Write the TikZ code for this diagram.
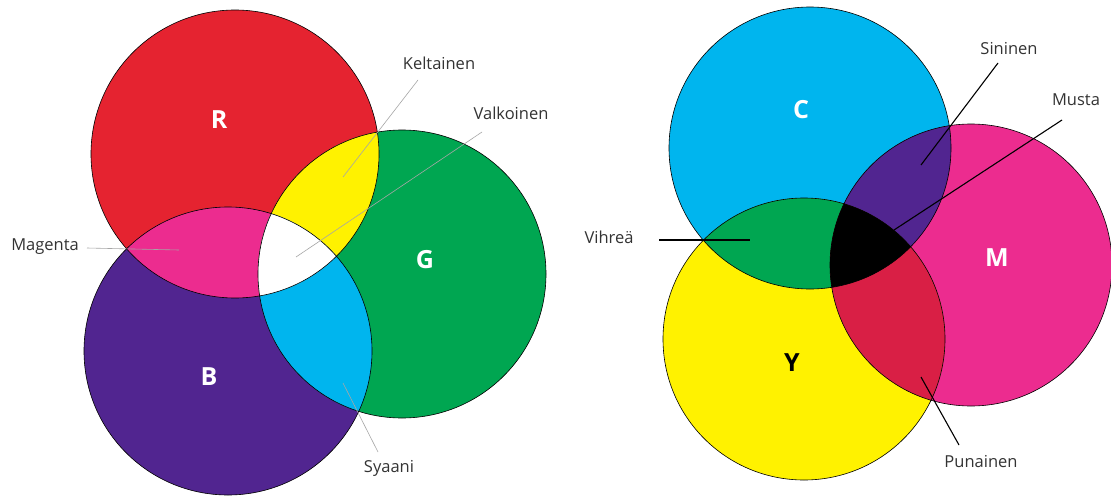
\documentclass[tikz,border=0pt]{standalone}
\usepackage{fontspec}
\setmainfont{Open Sans}
\definecolor{cR}{HTML}{E52330}
\definecolor{cG}{HTML}{00A651}
\definecolor{cB}{HTML}{512590}
\definecolor{cC}{HTML}{00B5EE}
\definecolor{cY}{HTML}{FFF200}
\definecolor{cM}{HTML}{EC2C8F}
\definecolor{cRed}{HTML}{D91F45}
\definecolor{cTxt}{HTML}{333333}
\begin{document}
\begin{tikzpicture}[x=1pt,y=-1pt,
  outline/.style={draw=black,line width=0.6pt},
  lbl/.style={font=\fontsize{16.5}{18}\selectfont,text=cTxt,inner sep=1pt},
  big/.style={font=\fontsize{25}{28}\selectfont\bfseries,inner sep=0pt},
  gline/.style={draw=gray!70,line width=0.6pt},
  kline/.style={draw=black,line width=1.1pt}]
\useasboundingbox (0,0) rectangle (1111,498);
\fill[white] (0,0) rectangle (1111,498);
% ---------- left: additive ----------
\coordinate (R) at (235,154);
\coordinate (B) at (228,351);
\coordinate (G) at (402,274);
\def\rl{144pt}
\fill[cR] (R) circle[radius=\rl];
\fill[cB] (B) circle[radius=\rl];
\fill[cG] (G) circle[radius=\rl];
\begin{scope}\clip (R) circle[radius=\rl]; \fill[cM] (B) circle[radius=\rl]; \fill[cY] (G) circle[radius=\rl];\end{scope}
\begin{scope}\clip (G) circle[radius=\rl]; \fill[cC] (B) circle[radius=\rl];\end{scope}
\begin{scope}\clip (R) circle[radius=\rl]; \clip (G) circle[radius=\rl]; \fill[white] (B) circle[radius=\rl];\end{scope}
\draw[outline] (R) circle[radius=\rl] (B) circle[radius=\rl] (G) circle[radius=\rl];
\node[big,text=white] (lR) at (219,120) {R};
\node[big,text=white] (lB) at (209,377) {B};
\node[big,text=white] (lG) at (425,260) {G};
\node[lbl] (kel) at (439,63) {Keltainen};
\node[lbl] (val) at (511,113) {Valkoinen};
\node[lbl] (mag) at (45,247) {Magenta};
\node[lbl] (sya) at (389,468) {Syaani};
\coordinate (pk) at (343,177);
\coordinate (pv) at (296,257);
\coordinate (pm) at (179,250);
\coordinate (ps) at (343,383);
\draw[gline] (418,80) -- (pk);
\draw[gline] (482,132) -- (pv);
\draw[gline] (87,248) -- (pm);
\draw[gline] (378,452) -- (ps);
% ---------- right: subtractive ----------
\coordinate (C) at (810,148);
\coordinate (M) at (971,265);
\coordinate (Y) at (804,339);
\def\rr{141pt}
\fill[cC] (C) circle[radius=\rr];
\fill[cM] (M) circle[radius=\rr];
\fill[cY] (Y) circle[radius=\rr];
\begin{scope}\clip (C) circle[radius=\rr]; \fill[cB] (M) circle[radius=\rr]; \fill[cG] (Y) circle[radius=\rr];\end{scope}
\begin{scope}\clip (M) circle[radius=\rr]; \fill[cRed] (Y) circle[radius=\rr];\end{scope}
\begin{scope}\clip (C) circle[radius=\rr]; \clip (M) circle[radius=\rr]; \fill[black] (Y) circle[radius=\rr];\end{scope}
\draw[outline] (C) circle[radius=\rr] (M) circle[radius=\rr] (Y) circle[radius=\rr];
\node[big,text=white] (lC) at (801,110) {C};
\node[big,text=white] (lM) at (997,258) {M};
\node[big,text=black] (lY) at (792,363) {Y};
\node[lbl] (sin) at (1009,49) {Sininen};
\node[lbl] (mus) at (1076,100) {Musta};
\node[lbl] (vih) at (609,237) {Vihreä};
\node[lbl] (pun) at (981,462) {Punainen};
\coordinate (qs) at (921,165);
\coordinate (qm) at (894,230);
\coordinate (qv) at (750,240);
\coordinate (qp) at (921,377);
\draw[kline] (998,63) -- (qs);
\draw[kline] (1062,120) -- (qm);
\draw[kline] (659,240) -- (qv);
\draw[kline] (959,445) -- (qp);
\end{tikzpicture}
\end{document}
